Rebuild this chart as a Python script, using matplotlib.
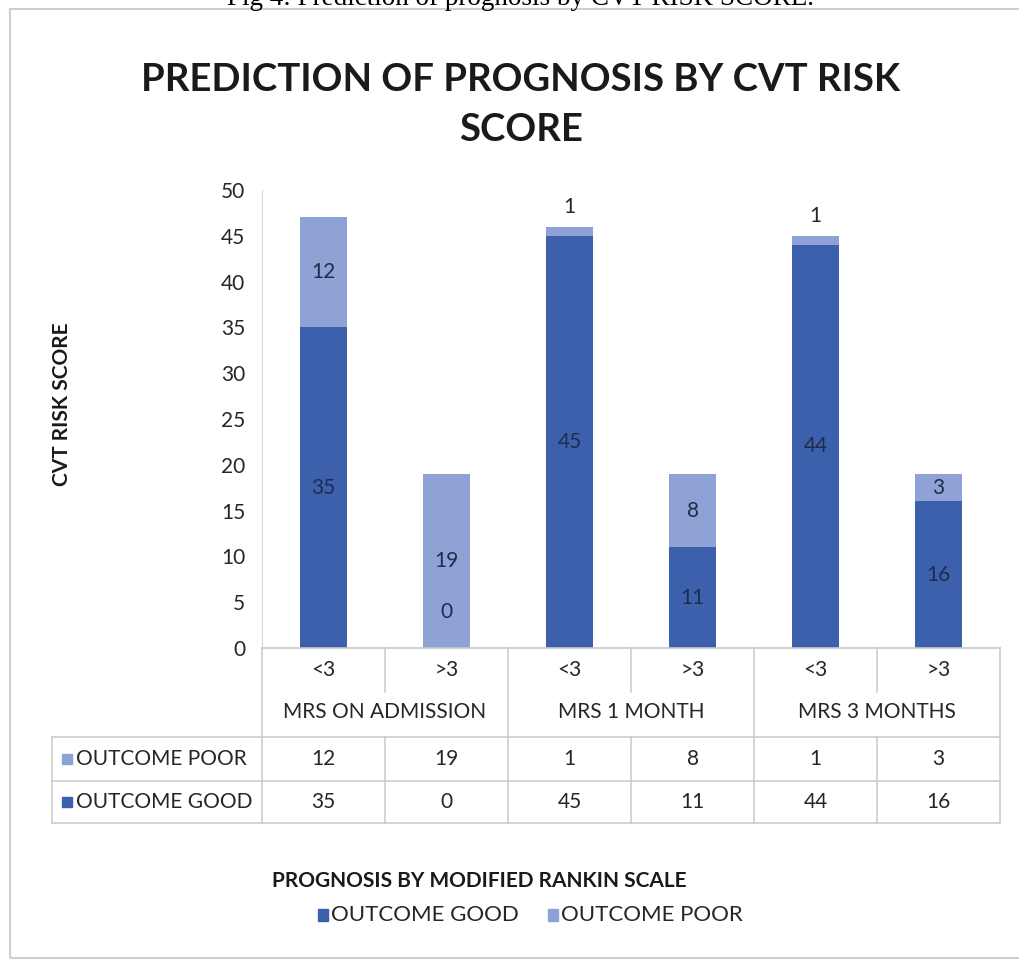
import numpy as np
import matplotlib
matplotlib.use("Agg")
import matplotlib.pyplot as plt
from matplotlib.transforms import blended_transform_factory
from matplotlib.patches import Rectangle

# ---- data ----
sub_labels = ['<3', '>3', '<3', '>3', '<3', '>3']
groups = ['MRS ON ADMISSION', 'MRS 1 MONTH', 'MRS 3 MONTHS']
outcome_good = [35, 0, 45, 11, 44, 16]
outcome_poor = [12, 19, 1, 8, 1, 3]

c_good = '#3d60ad'
c_poor = '#8ea2d6'
txt = '#262626'
grid_c = '#c8c8c8'

plt.rcParams['font.family'] = ['Lato', 'DejaVu Sans']

W, H = 1020, 964
fig = plt.figure(figsize=(W / 100, H / 100), dpi=100)

def fx(p):
    return p / W

def fy(p):
    return 1 - p / H

# axes: x 262..1000, y 190..648 px
ax = fig.add_axes([fx(262), fy(648), fx(1000) - fx(262), fy(190) - fy(648)])
x = np.arange(len(sub_labels))
bw = 0.39
ax.bar(x, outcome_good, bw, color=c_good, zorder=2)
ax.bar(x, outcome_poor, bw, bottom=outcome_good, color=c_poor, zorder=2)

ax.set_xlim(-0.5, len(x) - 0.5)
ax.set_ylim(0, 50)
ax.set_yticks(range(0, 51, 5))
ax.tick_params(axis='y', length=0, labelsize=15, colors=txt, pad=12)
ax.set_xticks([])
for s in ['top', 'right']:
    ax.spines[s].set_visible(False)
ax.spines['left'].set_color('#d9d9d9')
ax.spines['bottom'].set_color(grid_c)
ax.spines['bottom'].set_linewidth(1.2)

# data labels
lab_c = '#1f2d4d'
for i in range(len(x)):
    g, p = outcome_good[i], outcome_poor[i]
    if g > 0:
        ax.text(x[i], g / 2, str(g), ha='center', va='center', fontsize=15, color=lab_c)
    else:
        ax.annotate(str(g), (x[i], 0), xytext=(0, 26), textcoords='offset points',
                    ha='center', va='center', fontsize=15, color=lab_c)
    if p >= 2:
        ax.text(x[i], g + p / 2, str(p), ha='center', va='center', fontsize=15, color=lab_c)
    else:
        ax.annotate(str(p), (x[i], g + p), xytext=(0, 14), textcoords='offset points',
                    ha='center', va='center', fontsize=15, color=txt)

# ---- category axis + data table ----
tr = blended_transform_factory(ax.transData, fig.transFigure)

def vline(xd, y0, y1):
    fig.add_artist(plt.Line2D([xd, xd], [fy(y0), fy(y1)], transform=tr, color=grid_c, lw=1.1))

def hline(x0, x1, yp):
    fig.add_artist(plt.Line2D([fx(x0), fx(x1)], [fy(yp), fy(yp)], transform=fig.transFigure,
                              color=grid_c, lw=1.1))

for i in range(len(x)):
    t = fig.text(0, fy(670), sub_labels[i], transform=tr, ha='center', va='center',
                 fontsize=15, color=txt)
    t.set_x(x[i])
for k, gname in enumerate(groups):
    t = fig.text(0, fy(712), gname, transform=tr, ha='center', va='center', fontsize=15, color=txt)
    t.set_x(2 * k + 0.5)

# boundaries
for b in np.arange(-0.5, len(x), 1.0):
    if int(b + 0.5) % 2 == 0:
        vline(b, 648, 823)
    else:
        vline(b, 648, 692)
        vline(b, 737, 823)
hline(52, 1000, 737)
hline(52, 1000, 781)
hline(52, 1000, 823)
fig.add_artist(plt.Line2D([fx(52), fx(52)], [fy(737), fy(823)], transform=fig.transFigure,
                          color=grid_c, lw=1.1))

rows = [('OUTCOME POOR', outcome_poor, c_poor, 759), ('OUTCOME GOOD', outcome_good, c_good, 802)]
for name, vals, col, yp in rows:
    fig.add_artist(Rectangle((fx(62), fy(yp + 5)), fx(10), 10 / H, transform=fig.transFigure,
                             color=col))
    fig.text(fx(76), fy(yp), name, ha='left', va='center', fontsize=15, color=txt)
    for i, v in enumerate(vals):
        t = fig.text(0, fy(yp), str(v), transform=tr, ha='center', va='center', fontsize=15, color=txt)
        t.set_x(x[i])

# ---- titles ----
fig.text(fx(521), fy(80), 'PREDICTION OF PROGNOSIS BY CVT RISK', ha='center', va='center',
         fontsize=27.5, fontweight='bold', color='#1a1a1a')
fig.text(fx(521), fy(130), 'SCORE', ha='center', va='center',
         fontsize=27.5, fontweight='bold', color='#1a1a1a')
fig.text(fx(62), fy(404), 'CVT RISK SCORE', rotation=90, ha='center', va='center',
         fontsize=15, fontweight='bold', color='#1a1a1a')

# ---- legend ----
fig.text(fx(479), fy(881), 'PROGNOSIS BY MODIFIED RANKIN SCALE', ha='center', va='center',
         fontsize=15, fontweight='bold', color='#1a1a1a')
leg = [('OUTCOME GOOD', c_good, 318), ('OUTCOME POOR', c_poor, 548)]
for name, col, xp in leg:
    fig.add_artist(Rectangle((fx(xp), fy(921)), fx(10), 12 / H, transform=fig.transFigure, color=col))
    fig.text(fx(xp + 13), fy(915), name, ha='left', va='center', fontsize=16, color=txt)

# ---- frame and caption ----
fig.add_artist(Rectangle((fx(10), fy(958)), fx(1030), (958 - 9) / H, transform=fig.transFigure,
                         fill=False, edgecolor='#cfcfcf', lw=1.5))
fig.text(fx(521), fy(5), 'Fig 4: Prediction of prognosis by CVT RISK SCORE.', ha='center', va='baseline',
         fontsize=19.5, family='Liberation Serif', color='black')

fig.savefig('out.png', dpi=100, facecolor='white')
